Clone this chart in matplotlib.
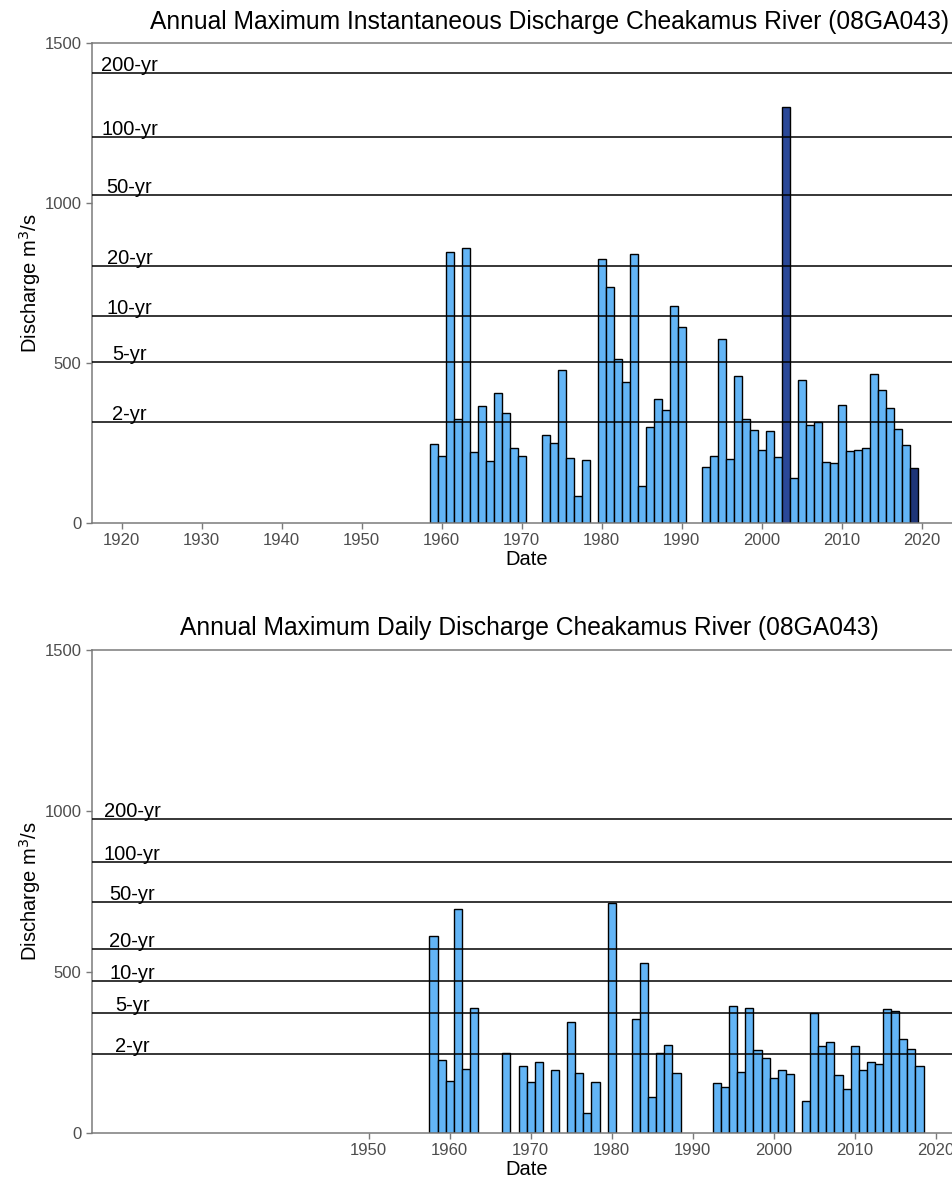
import matplotlib
matplotlib.use('Agg')
import matplotlib.pyplot as plt

plt.rcParams['font.family'] = ['Liberation Sans', 'DejaVu Sans']

# --- data ---
inst_years = [1959, 1960, 1961, 1962, 1963, 1964, 1965, 1966, 1967, 1968, 1969, 1970,
              1973, 1974, 1975, 1976, 1977, 1978,
              1980, 1981, 1982, 1983, 1984, 1985, 1986, 1987, 1988, 1989, 1990,
              1993, 1994, 1995, 1996, 1997, 1998, 1999, 2000, 2001, 2002, 2003, 2004,
              2005, 2006, 2007, 2008, 2009, 2010, 2011, 2012, 2013, 2014, 2015, 2016,
              2017, 2018, 2019]
inst_q = [245, 209, 848, 324, 861, 222, 365, 193, 405, 343, 233, 209,
          274, 250, 479, 203, 84, 196,
          826, 738, 512, 439, 841, 116, 300, 387, 352, 679, 612,
          175, 210, 574, 199, 460, 325, 289, 228, 286, 205, 1300, 139,
          447, 305, 314, 191, 187, 367, 224, 228, 235, 466, 414, 360,
          292, 243, 170]
inst_dark = {2003: '#2A4898', 2019: '#1E3578'}

daily_years = [1958, 1959, 1960, 1961, 1962, 1963, 1967, 1969, 1970, 1971, 1973,
               1975, 1976, 1977, 1978, 1980, 1983, 1984, 1985, 1986, 1987, 1988,
               1993, 1994, 1995, 1996, 1997, 1998, 1999, 2000, 2001, 2002,
               2004, 2005, 2006, 2007, 2008, 2009, 2010, 2011, 2012, 2013, 2014,
               2015, 2016, 2017, 2018]
daily_q = [610, 226, 162, 694, 198, 387, 247, 208, 159, 219, 195,
           343, 187, 62, 157, 714, 352, 526, 110, 247, 273, 185,
           153, 141, 395, 189, 388, 258, 233, 170, 194, 182,
           99, 371, 269, 283, 178, 135, 270, 195, 219, 214, 384,
           377, 290, 259, 208]

rp_labels = ['2-yr', '5-yr', '10-yr', '20-yr', '50-yr', '100-yr', '200-yr']
inst_rp = [314, 503, 648, 803, 1024, 1206, 1408]
daily_rp = [244, 372, 471, 571, 718, 840, 974]

BAR = '#63B5F6'
SPINE = '#7a7a7a'
W, H = 953, 1183

fig = plt.figure(figsize=(W / 100, H / 100), dpi=100)


def px_axes(left, top, right, bottom):
    return fig.add_axes([left / W, 1 - bottom / H, (right - left) / W, (bottom - top) / H])


def style(ax, xlim, ticks, title, title_x, title_y):
    ax.set_ylim(0, 1500)
    ax.set_xlim(*xlim)
    ax.set_yticks([0, 500, 1000, 1500])
    ax.set_xticks(ticks)
    ax.tick_params(colors=SPINE, labelcolor='#4d4d4d', labelsize=12, length=4, width=1)
    for s in ax.spines.values():
        s.set_color(SPINE)
        s.set_linewidth(1.1)
    # title centred over the (wider, cropped) panel
    fig.text(title_x / W, 1 - title_y / H, title, fontsize=17.7, ha='center', va='center')
    ax.set_xlabel('Date', fontsize=14.5, labelpad=1)
    ax.set_ylabel('Discharge m$^3$/s', fontsize=14.5, labelpad=1)


def return_lines(ax, levels, xtext):
    for lab, lev in zip(rp_labels, levels):
        ax.axhline(lev, color='black', linewidth=1.1, zorder=3)
        ax.annotate(lab, (xtext, lev), xytext=(0, 1.5), textcoords='offset points',
                    ha='center', va='baseline', fontsize=14.5, zorder=4)


# top panel: instantaneous
ax1 = px_axes(92, 43.3, 962, 522.7)
colors = [inst_dark.get(y, BAR) for y in inst_years]
ax1.bar(inst_years, inst_q, width=1.0, color=colors, edgecolor='black', linewidth=1.0, zorder=2)
return_lines(ax1, inst_rp, 1921)
style(ax1, (1916.3, 1916.3 + (962 - 92) / 8.0), range(1920, 2021, 10),
      'Annual Maximum Instantaneous Discharge Cheakamus River (08GA043)', 550, 22)

# bottom panel: daily
ax2 = px_axes(91.7, 650, 962, 1132.7)
ax2.bar(daily_years, daily_q, width=1.0, color=BAR, edgecolor='black', linewidth=1.0, zorder=2)
return_lines(ax2, daily_rp, 1920.8)
style(ax2, (1915.8, 1915.8 + (962 - 91.7) / 8.1), range(1950, 2021, 10),
      'Annual Maximum Daily Discharge Cheakamus River (08GA043)', 529, 628)

fig.savefig('out.png', dpi=100)
